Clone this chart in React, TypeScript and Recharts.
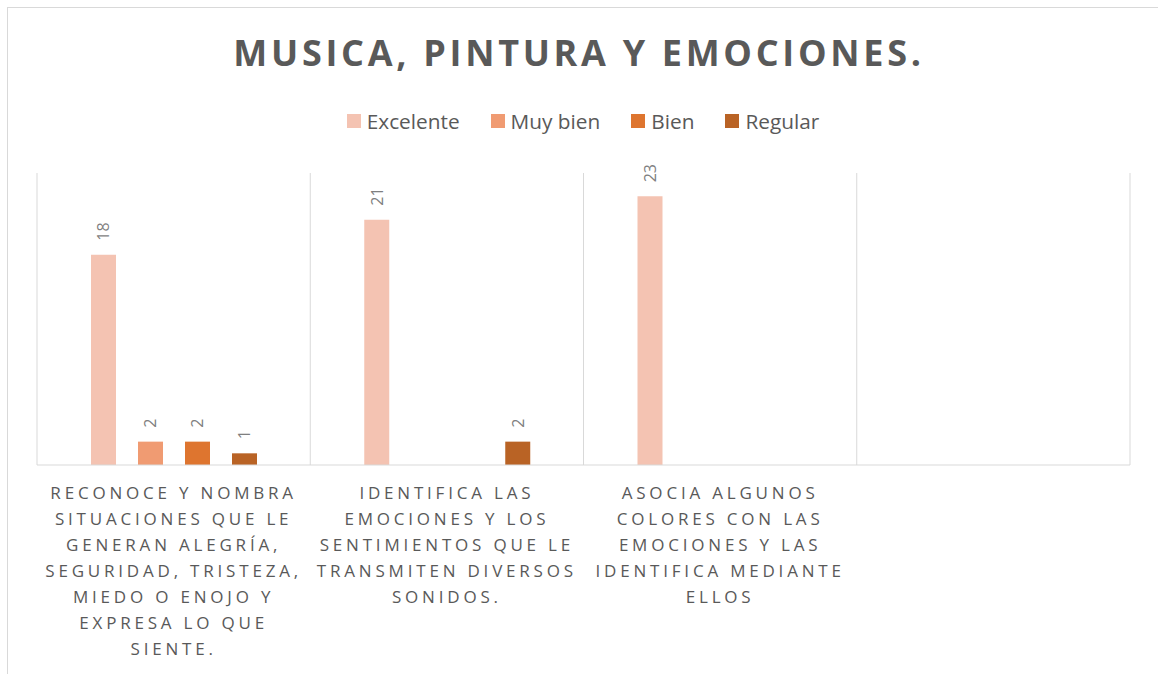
import { BarChart, Bar, XAxis, YAxis, CartesianGrid, LabelList } from 'recharts';

const categories = ['c1', 'c2', 'c3', 'c4'];

const categoryLines: string[][] = [
  ['RECONOCE Y NOMBRA', 'SITUACIONES QUE LE', 'GENERAN ALEGRÍA,', 'SEGURIDAD, TRISTEZA,', 'MIEDO O ENOJO Y', 'EXPRESA LO QUE', 'SIENTE.'],
  ['IDENTIFICA LAS', 'EMOCIONES Y LOS', 'SENTIMIENTOS QUE LE', 'TRANSMITEN DIVERSOS', 'SONIDOS.'],
  ['ASOCIA ALGUNOS', 'COLORES CON LAS', 'EMOCIONES Y LAS', 'IDENTIFICA MEDIANTE', 'ELLOS'],
  [],
];

const excelente = [18, 21, 23, null];
const muyBien = [2, null, null, null];
const bien = [2, null, null, null];
const regular = [1, 2, null, null];

const seriesNames = ['Excelente', 'Muy bien', 'Bien', 'Regular'];
const seriesKeys = ['excelente', 'muyBien', 'bien', 'regular'];
const seriesColors = ['#F4C3B2', '#F09B72', '#DE752F', '#B96325'];

const data = categories.map((c, i) => ({
  cat: c,
  excelente: excelente[i],
  muyBien: muyBien[i],
  bien: bien[i],
  regular: regular[i],
}));

const FONT = '"Open Sans", sans-serif';

function CategoryTick(props: any) {
  const { x, y, payload } = props;
  const lines = categoryLines[payload.index] || [];
  return (
    <text
      x={x}
      y={y + 26}
      textAnchor="middle"
      fill="#595959"
      fontSize={17}
      fontFamily={FONT}
      letterSpacing={3.8}
    >
      {lines.map((l, i) => (
        <tspan key={i} x={x} dy={i === 0 ? 0 : 26}>
          {l}
        </tspan>
      ))}
    </text>
  );
}

function ValueLabel(props: any) {
  const { x, y, width, value } = props;
  if (value == null) return null;
  const cx = x + width / 2;
  const cy = y - 14;
  return (
    <text
      x={cx}
      y={cy}
      transform={`rotate(-90 ${cx} ${cy})`}
      textAnchor="start"
      dominantBaseline="central"
      fill="#7f7f7f"
      fontSize={16}
      fontFamily={FONT}
    >
      {value}
    </text>
  );
}

export default function App() {
  return (
    <div style={{ position: 'absolute', left: 0, top: 0, width: 1158, height: 674, background: '#fff', overflow: 'hidden' }}>
      <div style={{ position: 'absolute', left: 7, top: 7, width: 1160, height: 700, border: '1px solid #d9d9d9' }} />
      <div
        style={{
          position: 'absolute',
          top: 28,
          left: 0,
          width: 1158,
          textAlign: 'center',
          fontFamily: FONT,
          fontWeight: 700,
          fontSize: 36,
          letterSpacing: 3.7,
          color: '#595959',
        }}
      >
        MUSICA, PINTURA Y EMOCIONES.
      </div>
      <div
        style={{
          position: 'absolute',
          top: 107,
          left: 4,
          width: 1158,
          display: 'flex',
          justifyContent: 'center',
          gap: 31,
          fontFamily: FONT,
          fontSize: 20.8,
          color: '#595959',
        }}
      >
        {seriesNames.map((n, i) => (
          <div key={n} style={{ display: 'flex', alignItems: 'center' }}>
            <span style={{ width: 14, height: 14, background: seriesColors[i], marginRight: 6, display: 'inline-block' }} />
            <span>{n}</span>
          </div>
        ))}
      </div>
      <BarChart
        width={1158}
        height={674}
        data={data}
        margin={{ top: 173, left: 37, right: 28, bottom: 9 }}
        barSize={25}
        barGap={22}
        style={{ position: 'absolute', left: 0, top: 0 }}
      >
        <CartesianGrid
          horizontal={false}
          stroke="#d9d9d9"
          verticalCoordinatesGenerator={({ offset }: any) =>
            [0, 1, 2, 3, 4].map((i) => offset.left + (i * offset.width) / 4)
          }
        />
        <XAxis
          dataKey="cat"
          interval={0}
          height={200}
          tickLine={false}
          axisLine={{ stroke: '#d9d9d9' }}
          tick={<CategoryTick />}
        />
        <YAxis hide domain={[0, 25]} />
        {seriesKeys.map((k, i) => (
          <Bar key={k} dataKey={k} name={seriesNames[i]} fill={seriesColors[i]} isAnimationActive={false}>
            <LabelList dataKey={k} content={<ValueLabel />} />
          </Bar>
        ))}
      </BarChart>
    </div>
  );
}
